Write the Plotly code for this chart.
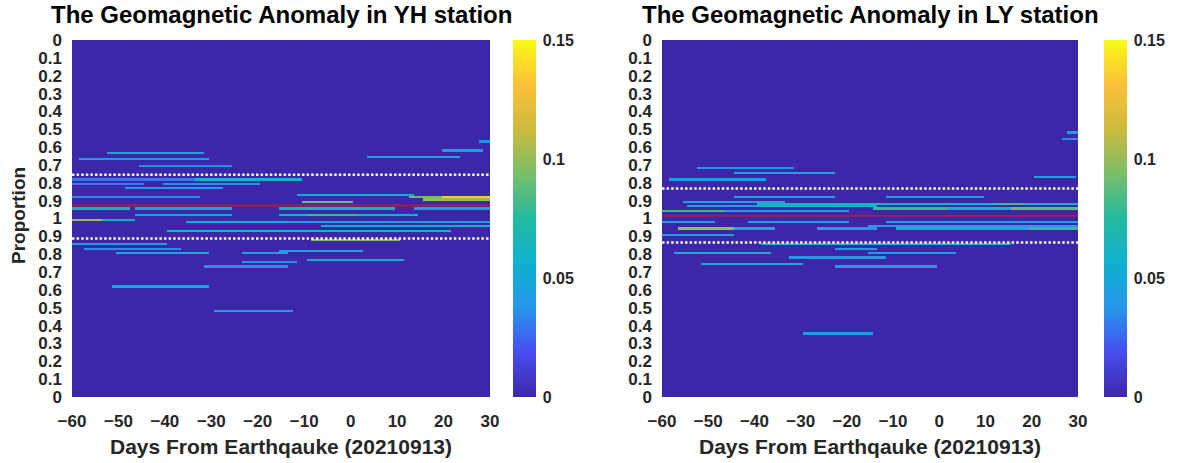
import numpy as np
import plotly.graph_objects as go

# ---- data -------------------------------------------------------------
days = np.arange(-60, 31)                 # days relative to the 2021-09-13 event
bin_w = 0.0125                            # proportion bin height
n_rows = int(round(2 / bin_w))
row_centers = (np.arange(n_rows) + 0.5) * bin_w

tick_pos = [round(0.1 * i, 1) for i in range(21)]
tick_text = ["0", "0.1", "0.2", "0.3", "0.4", "0.5", "0.6", "0.7", "0.8", "0.9", "1",
             "0.9", "0.8", "0.7", "0.6", "0.5", "0.4", "0.3", "0.2", "0.1", "0"]
x_ticks = [-60, -50, -40, -30, -20, -10, 0, 10, 20, 30]
cbar_ticks = [0, 0.05, 0.1, 0.15]

# anomaly streaks: (position, first day, last day, value)
yh_streaks = [
    (0.574, 28, 30, 0.035), (0.624, 20, 28, 0.04), (0.63, -52, -32, 0.05),
    (0.656, 4, 23, 0.045), (0.665, -58, -31, 0.04), (0.71, -45, -26, 0.035),
    (0.775, -60, -33, 0.03), (0.775, -33, -11, 0.065), (0.80, -60, -45, 0.03),
    (0.80, -40, -20, 0.035), (0.83, -48, -28, 0.04), (0.865, -11, 13, 0.05),
    (0.875, -60, -33, 0.035), (0.885, 13, 20, 0.09), (0.885, 20, 30, 0.135),
    (0.897, 16, 30, 0.10), (0.91, -10, 0, 0.09), (0.949, -60, -48, 0.06),
    (0.949, -46, -26, 0.045), (0.949, -15, 9, 0.06), (0.949, 14, 30, 0.04),
    (0.975, -15, 14, 0.06), (0.975, -9, 1, 0.08), (0.987, -46, -26, 0.05),
    (1.01, -60, -54, 0.10), (1.01, -54, -47, 0.06), (1.023, -35, -14, 0.05),
    (1.023, -15, 30, 0.04), (1.04, -6, 30, 0.06), (1.07, -39, 21, 0.07),
    (1.12, -8, 10, 0.095), (1.144, -60, -40, 0.04), (1.172, -57, -37, 0.035),
    (1.18, -15, 2, 0.045), (1.20, -50, -31, 0.05), (1.20, -23, -14, 0.04),
    (1.227, -9, 11, 0.05), (1.24, -23, -12, 0.035), (1.274, -31, -14, 0.035),
    (1.385, -51, -31, 0.045), (1.515, -29, -13, 0.04),
]
ly_streaks = [
    (0.52, 28, 30, 0.04), (0.55, 27, 30, 0.035), (0.722, -52, -32, 0.04),
    (0.741, -44, -23, 0.045), (0.763, 21, 29, 0.045), (0.782, -58, -38, 0.04),
    (0.884, -44, -23, 0.045), (0.884, -11, 9, 0.04), (0.902, -55, -34, 0.045),
    (0.915, -39, -14, 0.065), (0.915, -14, 30, 0.06), (0.915, 12, 18, 0.08),
    (0.934, -54, -36, 0.04), (0.934, -39, -14, 0.06), (0.947, -14, 1, 0.08),
    (0.947, 1, 16, 0.06), (0.947, 16, 30, 0.09), (0.962, -60, -47, 0.08),
    (0.962, -47, -20, 0.045), (1.023, -60, -49, 0.04), (1.023, -41, -20, 0.045),
    (1.023, -11, 30, 0.04), (1.04, -15, 30, 0.04), (1.06, -56, -45, 0.10),
    (1.06, -45, -36, 0.05), (1.06, -26, -14, 0.04), (1.06, -9, 20, 0.055),
    (1.06, 20, 30, 0.08), (1.088, -60, -45, 0.04), (1.145, -38, 15, 0.06),
    (1.172, -22, -14, 0.04), (1.19, -57, -37, 0.05), (1.19, -15, 3, 0.04),
    (1.224, -32, -12, 0.04), (1.25, -51, -30, 0.05), (1.274, -22, -1, 0.04),
    (1.643, -29, -15, 0.04),
]

# threshold (dotted) and reference (red) levels
yh_dotted = [0.755, 1.112]
ly_dotted = [0.832, 1.135]
yh_red = 0.927
ly_red = 0.985

# ---- helpers ----------------------------------------------------------
def build_grid(streaks):
    z = np.zeros((n_rows, days.size))
    for pos, d0, d1, val in streaks:
        r = min(int(pos / bin_w), n_rows - 1)
        c0, c1 = d0 - days[0], d1 - days[0] + 1
        z[r, c0:c1] = np.maximum(z[r, c0:c1], val)
    return z

parula = [
    [0.000, "rgb(62,38,168)"],
    [0.125, "rgb(71,78,240)"],
    [0.250, "rgb(39,150,235)"],
    [0.375, "rgb(14,177,208)"],
    [0.500, "rgb(36,185,160)"],
    [0.625, "rgb(120,190,105)"],
    [0.750, "rgb(205,186,62)"],
    [0.875, "rgb(252,192,58)"],
    [1.000, "rgb(249,251,21)"],
]

W, H = 1179, 463
top_px, bot_px = 40, 397
ydom = [1 - bot_px / H, 1 - top_px / H]
panels = [
    dict(name="YH", streaks=yh_streaks, dotted=yh_dotted, red=yh_red,
         x0=72, x1=490, cb=513),
    dict(name="LY", streaks=ly_streaks, dotted=ly_dotted, red=ly_red,
         x0=662, x1=1078, cb=1104),
]

font_family = "Liberation Sans, Arial, sans-serif"
text_col = "#262626"

def bold(size, color=text_col):
    return dict(size=size, family=font_family, color=color, weight="bold")

fig = go.Figure()
layout = dict(
    width=W, height=H, margin=dict(l=0, r=0, t=0, b=0, autoexpand=False),
    paper_bgcolor="white", plot_bgcolor="white", showlegend=False,
    font=bold(14),
    annotations=[],
)

for i, p in enumerate(panels):
    xa = "x" if i == 0 else "x2"
    ya = "y" if i == 0 else "y2"
    fig.add_trace(go.Heatmap(
        x=days, y=row_centers, z=build_grid(p["streaks"]),
        xaxis=xa, yaxis=ya, zmin=0, zmax=0.15, colorscale=parula,
        hoverinfo="skip",
        colorbar=dict(
            x=p["cb"] / W, xanchor="left", y=sum(ydom) / 2, yanchor="middle",
            len=(bot_px - top_px) / H, lenmode="fraction",
            thickness=23, thicknessmode="pixels", outlinewidth=0, xpad=0, ypad=0,
            tickvals=cbar_ticks, ticktext=["0", "0.05", "0.1", "0.15"],
            ticks="outside", ticklen=4, tickcolor="rgba(0,0,0,0)",
            tickfont=bold(16),
        ),
    ))
    # red reference level
    fig.add_trace(go.Scatter(
        x=[days[0], days[-1]], y=[p["red"], p["red"]], xaxis=xa, yaxis=ya,
        mode="lines", line=dict(color="rgba(185,28,48,0.85)", width=2),
        hoverinfo="skip",
    ))
    # dotted threshold levels
    for lvl in p["dotted"]:
        fig.add_trace(go.Scatter(
            x=[days[0], days[-1]], y=[lvl, lvl], xaxis=xa, yaxis=ya,
            mode="lines",
            line=dict(color="rgba(255,255,255,0.95)", width=2.5, dash="2.5px,2.1px"),
            hoverinfo="skip",
        ))

    sfx = "" if i == 0 else "2"
    layout["xaxis" + sfx] = dict(
        domain=[p["x0"] / W, p["x1"] / W], range=[-60, 30], anchor=ya,
        tickvals=x_ticks, ticks="", showgrid=False, zeroline=False,
        showline=False, ticklabelstandoff=12, automargin=False,
        tickfont=bold(17),
    )
    layout["yaxis" + sfx] = dict(
        domain=ydom, range=[2, 0], anchor=xa,
        tickvals=tick_pos, ticktext=tick_text, ticks="", showgrid=False,
        zeroline=False, showline=False, ticklabelstandoff=9, automargin=False,
        tickfont=bold(17),
    )
    cx = (p["x0"] + p["x1"]) / 2 / W
    layout["annotations"] += [
        dict(text="The Geomagnetic Anomaly in %s station" % p["name"],
             x=cx, y=1 - 15 / H, xref="paper", yref="paper",
             xanchor="center", yanchor="middle", showarrow=False,
             font=bold(24, "black")),
        dict(text="Days From Earthqauke (20210913)",
             x=cx, y=1 - 446 / H, xref="paper", yref="paper",
             xanchor="center", yanchor="middle", showarrow=False,
             font=bold(21)),
    ]

layout["annotations"].append(dict(
    text="Proportion", textangle=-90, x=19 / W, y=1 - 215 / H,
    xref="paper", yref="paper", xanchor="center", yanchor="middle",
    showarrow=False, font=bold(19),
))

fig.update_layout(**layout)
fig.write_html("out.html")
